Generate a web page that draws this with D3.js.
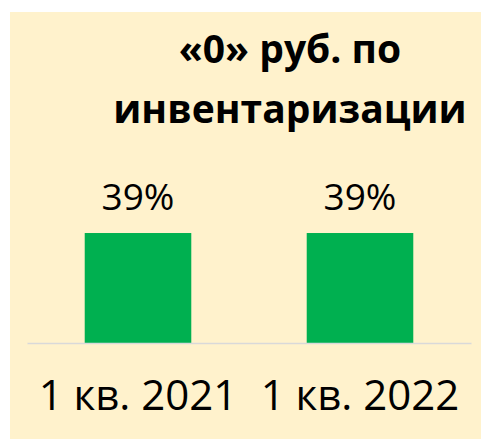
<!DOCTYPE html>
<html lang="ru">
<head>
<meta charset="utf-8">
<title>«0» руб. по инвентаризации</title>
<script src="https://d3js.org/d3.v7.min.js"></script>
<style>
  body { margin: 0; background: #ffffff; }
  .title { font: bold 39px "Open Sans", sans-serif; fill: #000; }
  .value { font: 37px "Open Sans", sans-serif; fill: #000; }
  .cat { font: 42px "Open Sans", sans-serif; fill: #000; }
</style>
</head>
<body>
<svg class="chart" width="481" height="439"></svg>
<script>
  var categories = ["1 кв. 2021", "1 кв. 2022"];
  var values = [0.39, 0.39];
  var titleLines = ["«0» руб. по", "инвентаризации"];

  var svg = d3.select("svg");

  // panel background
  svg.append("rect")
    .attr("x", 10).attr("y", 12)
    .attr("width", 471).attr("height", 427)
    .attr("fill", "#FFF2CC");

  var x = d3.scaleBand().domain(categories).range([27, 471])
    .paddingInner(0.52).paddingOuter(0.26);
  var y = d3.scaleLinear().domain([0, 0.5]).range([343, 202]);

  // title
  svg.append("g").selectAll("text")
    .data(titleLines)
    .enter().append("text")
      .attr("class", "title")
      .attr("x", 290)
      .attr("y", function(d, i) { return 63 + i * 60; })
      .attr("text-anchor", "middle")
      .text(function(d) { return d; });

  // bars
  svg.append("g").selectAll("rect")
    .data(values)
    .enter().append("rect")
      .attr("x", function(d, i) { return x(categories[i]); })
      .attr("y", function(d) { return y(d); })
      .attr("width", x.bandwidth())
      .attr("height", function(d) { return y(0) - y(d); })
      .attr("fill", "#00B050");

  // value labels
  svg.append("g").selectAll("text")
    .data(values)
    .enter().append("text")
      .attr("class", "value")
      .attr("x", function(d, i) { return x(categories[i]) + x.bandwidth() / 2; })
      .attr("y", function(d) { return y(d) - 23; })
      .attr("text-anchor", "middle")
      .text(function(d) { return Math.round(d * 100) + "%"; });

  // category axis
  var axis = svg.append("g")
    .attr("transform", "translate(0," + y(0) + ")")
    .call(d3.axisBottom(x).tickSize(0).tickPadding(0));
  axis.select(".domain").attr("stroke", "#D9D9D9").attr("stroke-width", 1.5);
  axis.selectAll("text")
    .attr("class", "cat")
    .attr("fill", "#000")
    .attr("dy", null)
    .attr("y", 67)
    .style("font", null);
</script>
</body>
</html>
